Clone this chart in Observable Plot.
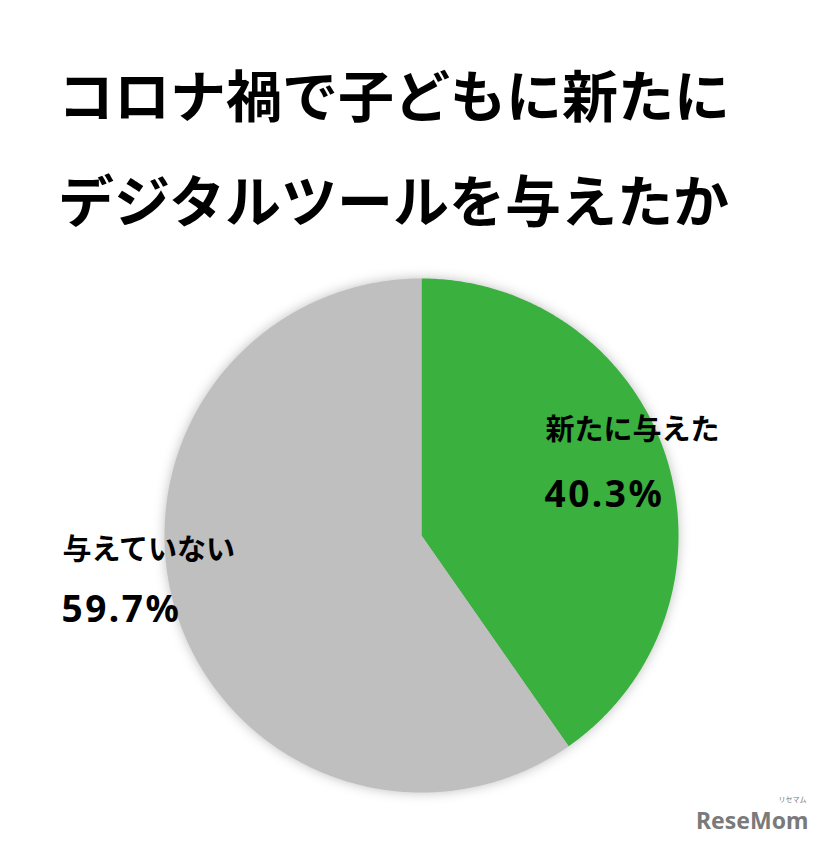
<!DOCTYPE html>
<html><head><meta charset="utf-8">
<script src="https://cdn.jsdelivr.net/npm/d3@7"></script>
<script src="https://cdn.jsdelivr.net/npm/@observablehq/plot@0.6"></script>
<style>
body{margin:0;background:#fff;font-family:"Noto Sans CJK JP","Noto Sans",sans-serif;}
#wrap{width:818px;height:842px;position:relative;overflow:hidden;}
#title{height:258px;box-sizing:border-box;padding:40px 0 0 58px;font-weight:700;font-size:56px;line-height:105px;color:#000;white-space:nowrap;}
</style></head><body>
<div id="wrap">
<div id="title"></div>
<div id="chart"></div>
</div>
<script>
const titleLines = ["コロナ禍で子どもに新たに", "デジタルツールを与えたか"];
const categories = ["新たに与えた", "与えていない"];
const values = [40.3, 59.7];
const colors = ["#3AB03E", "#BFBFBF"];
const valueLabels = ["40.3%", "59.7%"];

document.getElementById("title").innerHTML = titleLines.map(t => `<div>${t}</div>`).join("");

const W = 818, H = 584;
const cx = 421, cy = 277, R = 257;

const total = d3.sum(values);
const pts = [];
let acc = 0;
categories.forEach((c, i) => {
  const a0 = acc / total * 2 * Math.PI;
  acc += values[i];
  const a1 = acc / total * 2 * Math.PI;
  const n = Math.max(2, Math.ceil((a1 - a0) / 0.01));
  pts.push({cat: c, x: cx, y: cy});
  for (let k = 0; k <= n; k++) {
    const a = a0 + (a1 - a0) * k / n;
    pts.push({cat: c, x: cx + R * Math.sin(a), y: cy - R * Math.cos(a)});
  }
});

const labelPos = [{x: 545, y: 172, vy: 237}, {x: 62, y: 292, vy: 352}];
const catLabels = categories.map((c, i) => ({t: c, x: labelPos[i].x, y: labelPos[i].y}));
const valLabels = valueLabels.map((v, i) => ({t: v, x: labelPos[i].x - 1, y: labelPos[i].vy}));

const plot = Plot.plot({
  width: W, height: H,
  margin: 0,
  x: {domain: [0, W], range: [0, W], axis: null},
  y: {domain: [0, H], range: [0, H], axis: null},
  color: {domain: categories, range: colors},
  style: {background: "transparent", fontFamily: "'Noto Sans CJK JP', sans-serif"},
  marks: [
    Plot.line(pts, {x: "x", y: "y", z: "cat", fill: "cat", stroke: "none", curve: "linear-closed"}),
    Plot.text(catLabels, {x: "x", y: "y", text: "t", textAnchor: "start", fontSize: 29, fontWeight: 700, fill: "#000"}),
    Plot.text(valLabels, {x: "x", y: "y", text: "t", textAnchor: "start", fontSize: 37, fontWeight: 700, fill: "#000", fontFamily: "'Noto Sans', sans-serif"}),
    Plot.text(["ReseMom"], {x: W - 10, y: 563, text: d => d, textAnchor: "end", fontSize: 23, fontWeight: 700, fill: "#7a7a7a", fontFamily: "'Noto Sans', sans-serif"}),
    Plot.text(["リセマム"], {x: W - 12, y: 541, text: d => d, textAnchor: "end", fontSize: 7, fill: "#7a7a7a"})
  ]
});
const g = plot.querySelector('g[aria-label="line"]');
if (g) g.style.filter = "drop-shadow(0px 0px 6px rgba(0,0,0,0.25))";
const tg = plot.querySelectorAll('g[aria-label="text"]');
if (tg[1]) tg[1].querySelectorAll("text").forEach(t => t.style.letterSpacing = "2.5px");
document.getElementById("chart").appendChild(plot);
</script>
</body></html>
